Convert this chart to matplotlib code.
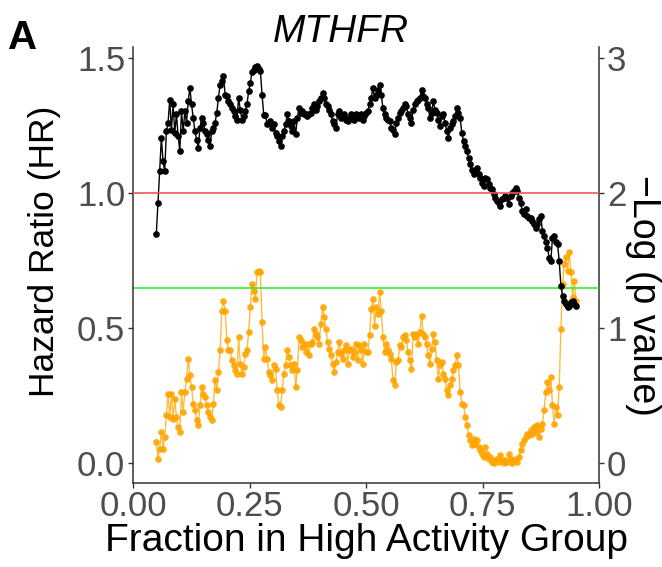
import numpy as np
import matplotlib
matplotlib.use("Agg")
import matplotlib.pyplot as plt

plt.rcParams['font.family'] = ['Liberation Sans', 'DejaVu Sans']

# hazard ratio (left axis)
hr = [0.851, 0.965, 1.082, 1.205, 1.119, 1.082, 1.230, 1.261, 1.347, 1.236,
      1.329, 1.224, 1.292, 1.212, 1.156, 1.304, 1.230, 1.304, 1.261, 1.341,
      1.390, 1.329, 1.279, 1.230, 1.199, 1.169, 1.242, 1.279, 1.261, 1.230,
      1.218, 1.199, 1.175, 1.230, 1.242, 1.261, 1.298, 1.353, 1.403, 1.415,
      1.433, 1.366, 1.359, 1.341, 1.329, 1.316, 1.304, 1.286, 1.273, 1.353,
      1.310, 1.273, 1.286, 1.304, 1.329, 1.378, 1.409, 1.449, 1.458, 1.467,
      1.470, 1.462, 1.452, 1.366, 1.290, 1.290,
      1.255, 1.261, 1.267, 1.242, 1.255, 1.224, 1.212, 1.193, 1.175, 1.212,
      1.230, 1.255, 1.292, 1.267, 1.249, 1.230, 1.267, 1.218, 1.279, 1.316,
      1.298, 1.304, 1.292, 1.292, 1.286, 1.292, 1.298, 1.316, 1.329, 1.310,
      1.322, 1.341, 1.353, 1.372, 1.353, 1.329, 1.322, 1.310, 1.292, 1.267,
      1.255, 1.242, 1.292, 1.304, 1.279, 1.286, 1.292, 1.273, 1.267, 1.279,
      1.292, 1.279, 1.273, 1.292, 1.286, 1.279, 1.292, 1.273, 1.286, 1.298,
      1.304, 1.329, 1.353, 1.390,
      1.353, 1.366, 1.384, 1.403, 1.366, 1.316, 1.292, 1.279, 1.273, 1.267,
      1.242, 1.236, 1.218, 1.261, 1.279, 1.298, 1.304, 1.316, 1.329, 1.322,
      1.292, 1.279, 1.261, 1.310, 1.329, 1.341, 1.347, 1.353, 1.384, 1.359,
      1.353, 1.329, 1.316, 1.279, 1.298, 1.341, 1.310, 1.298, 1.273, 1.249,
      1.286, 1.292, 1.261, 1.230, 1.205, 1.242, 1.255, 1.267, 1.286, 1.316,
      1.298, 1.279, 1.224, 1.193, 1.175, 1.156, 1.132, 1.107, 1.088, 1.070,
      1.082, 1.095, 1.070, 1.058, 1.039, 1.027,
      1.058, 1.052, 1.033, 1.021, 1.015, 0.996, 0.984, 0.972, 0.965, 0.953,
      0.978, 0.984, 0.990, 0.984, 0.959, 0.990, 1.002, 1.008, 1.021, 1.008,
      0.984, 0.965, 0.935, 0.922, 0.941, 0.916, 0.910, 0.910, 0.898, 0.885,
      0.873, 0.885, 0.904, 0.916, 0.861, 0.842, 0.818, 0.799, 0.762, 0.750,
      0.836, 0.842, 0.818, 0.811, 0.750, 0.657, 0.621, 0.602, 0.590, 0.577,
      0.584, 0.596, 0.602, 0.590, 0.584]

# -log10(p) (right axis)
logp = [0.158, 0.035, 0.109, 0.232, 0.109, 0.195, 0.355, 0.516, 0.343, 0.516,
        0.331, 0.479, 0.343, 0.269, 0.232, 0.528, 0.380, 0.528, 0.626, 0.774,
        0.651, 0.565, 0.442, 0.392, 0.319, 0.282, 0.429, 0.565, 0.516, 0.491,
        0.429, 0.380, 0.343, 0.319, 0.442, 0.614, 0.540, 0.676, 0.836, 1.131,
        1.205, 1.131, 0.910, 0.836, 0.836, 0.762, 0.725, 0.688, 0.663, 0.934,
        0.737, 0.663, 0.713, 0.811, 0.836, 0.971, 1.156, 1.328, 1.279, 1.218,
        1.415, 1.427, 1.415, 1.045, 0.774, 0.860,
        0.774, 0.676, 0.651, 0.614, 0.725, 0.700, 0.540, 0.429, 0.417, 0.540,
        0.663, 0.725, 0.836, 0.787, 0.725, 0.688, 0.737, 0.565, 0.688, 0.934,
        0.910, 0.860, 0.885, 0.823, 0.885, 0.799, 0.885, 0.897, 0.996, 0.959,
        0.934, 0.885, 1.033, 1.156, 1.082, 0.996, 0.897, 0.848, 0.799, 0.737,
        0.676, 0.750, 0.823, 0.897, 0.811, 0.774, 0.836, 0.873, 0.737, 0.836,
        0.848, 0.787, 0.823, 0.885, 0.762, 0.873, 0.836, 0.737, 0.885, 0.823,
        0.823, 0.947, 1.144, 1.218,
        1.020, 1.156, 1.107, 1.267, 1.131, 0.934, 0.823, 0.885, 0.836, 0.811,
        0.774, 0.614, 0.577, 0.750, 0.762, 0.873, 0.860, 0.934, 0.947, 0.910,
        0.823, 0.762, 0.700, 0.959, 0.934, 0.959, 0.885, 0.971, 1.094, 0.959,
        0.934, 0.885, 0.799, 0.737, 0.848, 0.959, 0.897, 0.762, 0.626, 0.725,
        0.750, 0.663, 0.626, 0.540, 0.503, 0.577, 0.626, 0.688, 0.725, 0.799,
        0.725, 0.528, 0.442, 0.429, 0.343, 0.282, 0.208, 0.171, 0.134, 0.183,
        0.146, 0.171, 0.121, 0.097, 0.072, 0.048,
        0.121, 0.072, 0.035, 0.048, 0.011, 0.005, 0.023, 0.035, 0.011, 0.060,
        0.023, 0.005, 0.023, 0.011, 0.072, 0.035, 0.005, 0.023, 0.035, 0.011,
        0.048, 0.097, 0.146, 0.171, 0.195, 0.220, 0.208, 0.245, 0.220, 0.269,
        0.232, 0.282, 0.195, 0.257, 0.294, 0.392, 0.528, 0.602, 0.540, 0.639,
        0.429, 0.294, 0.417, 0.355, 0.565, 0.996, 1.328, 1.476, 1.525, 1.427,
        1.562, 1.415, 1.230, 1.353, 1.205]

# fraction of samples in the high-activity group (evenly spaced cut points)
frac = np.linspace(0.05, 0.95, len(hr))

hr_ref = 1.0
p_ref = -np.log10(0.05)

x_ticks = [0.00, 0.25, 0.50, 0.75, 1.00]
x_labels = ["0.00", "0.25", "0.50", "0.75", "1.00"]
left_ticks = [0.0, 0.5, 1.0, 1.5]
left_labels = ["0.0", "0.5", "1.0", "1.5"]
right_ticks = [0, 1, 2, 3]

axcol = "#333333"
labcol = "#4D4D4D"

fig = plt.figure(figsize=(6.62, 5.67), dpi=100)
ax = fig.add_axes([0.2009, 0.1487, 0.7044, 0.7689])
ax2 = ax.twinx()

ax2.plot(frac, logp, color="orange", lw=1.0, alpha=0.75, zorder=2)
ax2.plot(frac, logp, 'o', color="orange", ms=4.8, mec="none", alpha=0.9, zorder=2)
ax2.axhline(p_ref, color="#33EE33", lw=1.2, zorder=5)

ax.plot(frac, hr, color="black", lw=1.0, zorder=2)
ax.plot(frac, hr, 'o', color="black", ms=4.8, mec="none", zorder=2)
ax.axhline(hr_ref, color="#F05555", lw=1.2, zorder=5)

ax.set_zorder(ax2.get_zorder() + 1)
ax.patch.set_visible(False)

ax.set_xlim(0, 1)
ax.set_ylim(-0.072, 1.543)
ax2.set_ylim(-0.144, 3.086)

ax.set_xticks(x_ticks)
ax.set_xticklabels(x_labels)
ax.set_yticks(left_ticks)
ax.set_yticklabels(left_labels)
ax2.set_yticks(right_ticks)

for a in (ax, ax2):
    a.spines['top'].set_visible(False)
    for s in a.spines.values():
        s.set_color(axcol)
        s.set_linewidth(1.1)
    a.tick_params(colors=axcol, labelcolor=labcol, labelsize=25,
                  length=3.5, width=1.0, pad=2)
ax.spines['right'].set_visible(False)
ax2.spines['left'].set_visible(False)
ax2.spines['bottom'].set_visible(False)

ax.set_xlabel("Fraction in High Activity Group", fontsize=28, color="black")
ax.xaxis.set_label_coords(0.5, -0.092)
ax.set_ylabel("Hazard Ratio (HR)", fontsize=25.5, color="black", va="center")
ax.yaxis.set_label_coords(-0.189, 0.53)
ax2.set_ylabel("\u2212Log (p value)", fontsize=27, color="black", rotation=270,
               va="center")
ax2.yaxis.set_label_coords(1.094, 0.43)

fig.text(341 / 662, 1 - 42 / 567, "MTHFR", style="italic", fontsize=28,
         ha="center", va="baseline")
fig.text(8 / 662, 1 - 49 / 567, "A", weight="bold", fontsize=29,
         ha="left", va="baseline")

fig.savefig("out.png", dpi=100)
